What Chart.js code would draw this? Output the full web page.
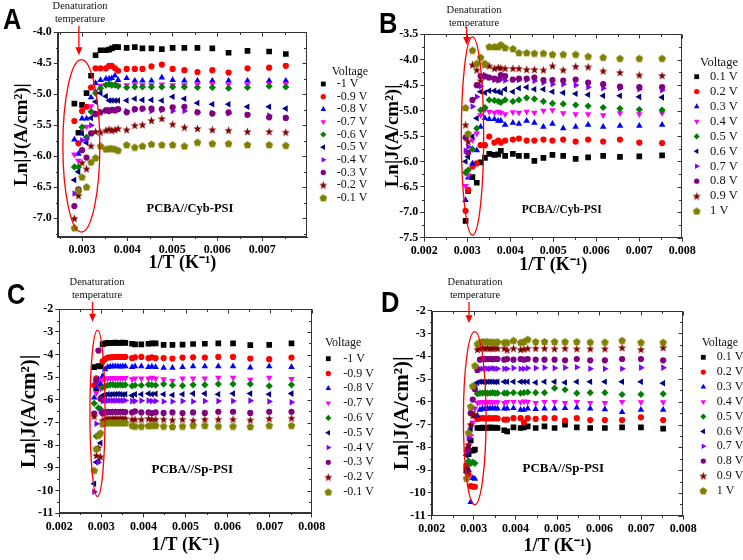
<!DOCTYPE html>
<html>
<head>
<meta charset="utf-8">
<script src="https://cdn.jsdelivr.net/npm/chart.js"></script>
<style>
  body { margin: 0; background: #fff; }
  #wrap { position: relative; width: 743px; height: 560px; overflow: hidden; background: #fff; }
  canvas { position: absolute; left: 0; top: 0; }
  .lbl { position: absolute; font: bold 30px "Liberation Sans", Arial, sans-serif; line-height: 30px; transform: scaleX(0.85); transform-origin: left top; }
  .note { position: absolute; width: 80px; text-align: center; font: 10.5px "Liberation Serif", "Times New Roman", serif; line-height: 12.5px; color: #111; }
</style>
</head>
<body>
<div id="wrap">
  <canvas id="cA" width="743" height="560"></canvas>
  <canvas id="cB" width="743" height="560"></canvas>
  <canvas id="cC" width="743" height="560"></canvas>
  <canvas id="cD" width="743" height="560"></canvas>
  <div class="lbl" style="left:3px;top:4px">A</div>
  <div class="lbl" style="left:379px;top:8px">B</div>
  <div class="lbl" style="left:7px;top:279px">C</div>
  <div class="lbl" style="left:381px;top:287px">D</div>
  <div class="note" style="left:40px;top:0px">Denaturation<br>temperature</div>
  <div class="note" style="left:434px;top:4px">Denaturation<br>temperature</div>
  <div class="note" style="left:57px;top:276px">Denaturation<br>temperature</div>
  <div class="note" style="left:435px;top:276px">Denaturation<br>temperature</div>
</div>
<script>
// 1/T values (K^-1) for each panel
const xsA = [0.00283, 0.00292, 0.00300, 0.00310, 0.00320, 0.00330, 0.00341, 0.00353, 0.00360, 0.00366, 0.00373, 0.00380, 0.00399, 0.00417, 0.00434, 0.00454, 0.00477, 0.00501, 0.00527, 0.00556, 0.00589, 0.00625, 0.00667, 0.00715, 0.00752];
const xsB = [0.00296, 0.00302, 0.00312, 0.00322, 0.00331, 0.00341, 0.00351, 0.00363, 0.00372, 0.00378, 0.00388, 0.00406, 0.00420, 0.00438, 0.00456, 0.00477, 0.00498, 0.00523, 0.00552, 0.00581, 0.00616, 0.00655, 0.00700, 0.00753];
const xsCD = [0.00283, 0.00288, 0.00293, 0.00298, 0.00303, 0.00309, 0.00315, 0.00321, 0.00327, 0.00333, 0.00339, 0.00345, 0.00351, 0.00357, 0.00373, 0.00380, 0.00395, 0.00412, 0.00420, 0.00429, 0.00448, 0.00469, 0.00493, 0.00518, 0.00546, 0.00578, 0.00613, 0.00654, 0.00699, 0.00752];

const voltsNeg = ['-1 V', '-0.9 V', '-0.8 V', '-0.7 V', '-0.6 V', '-0.5 V', '-0.4 V', '-0.3 V', '-0.2 V', '-0.1 V'];
const voltsPos = ['0.1 V', '0.2 V', '0.3 V', '0.4 V', '0.5 V', '0.6 V', '0.7 V', '0.8 V', '0.9 V', '1 V'];

// A: PCBA//Cyb-PSI, reverse bias
const A_n10 = [-5.15, -5.62, -5.17, -4.98, -4.70, -4.37, -4.29, -4.29, -4.28, -4.26, -4.24, -4.24, -4.25, -4.24, -4.26, -4.26, -4.27, -4.25, -4.25, -4.25, -4.26, -4.33, -4.30, -4.31, -4.35];
const A_n09 = [-5.43, -5.79, -5.27, -5.20, -4.89, -4.58, -4.58, -4.58, -4.54, -4.54, -4.58, -4.62, -4.59, -4.59, -4.59, -4.55, -4.52, -4.59, -4.61, -4.64, -4.61, -4.65, -4.58, -4.57, -4.54];
const A_n08 = [-5.73, -5.96, -5.39, -5.39, -5.05, -4.82, -4.77, -4.75, -4.75, -4.74, -4.70, -4.77, -4.74, -4.78, -4.78, -4.78, -4.73, -4.77, -4.78, -4.78, -4.78, -4.78, -4.78, -4.78, -4.78];
const A_n07 = [-5.97, -6.07, -5.55, -5.52, -5.19, -4.95, -4.86, -4.85, -4.84, -4.85, -4.84, -4.86, -4.85, -4.84, -4.85, -4.85, -4.84, -4.85, -4.85, -4.84, -4.83, -4.84, -4.84, -4.83, -4.83];
const A_n06 = [-6.17, -6.17, -5.53, -5.69, -5.28, -4.98, -4.90, -4.85, -4.83, -4.85, -4.85, -4.87, -4.89, -4.88, -4.88, -4.88, -4.88, -4.88, -4.88, -4.89, -4.89, -4.90, -4.89, -4.87, -4.88];
const A_n05 = [-6.38, -6.25, -5.63, -5.78, -5.38, -5.12, -4.98, -5.03, -5.10, -5.10, -5.10, -5.10, -5.10, -5.07, -5.09, -5.09, -5.10, -5.04, -5.07, -5.14, -5.16, -5.16, -5.20, -5.20, -5.23];
const A_n04 = [-6.60, -6.57, -5.74, -5.72, -5.50, -5.30, -5.28, -5.26, -5.25, -5.26, -5.25, -5.25, -5.27, -5.25, -5.24, -5.27, -5.25, -5.27, -5.27, -5.29, -5.30, -5.31, -5.33, -5.34, -5.38];
const A_n03 = [-6.80, -6.53, -5.90, -6.02, -5.63, -5.32, -5.29, -5.26, -5.27, -5.25, -5.26, -5.24, -5.29, -5.24, -5.23, -5.23, -5.24, -5.21, -5.20, -5.29, -5.31, -5.29, -5.33, -5.37, -5.38];
const A_n02 = [-7.00, -6.63, -6.10, -6.20, -5.83, -5.60, -5.61, -5.58, -5.56, -5.58, -5.57, -5.55, -5.57, -5.50, -5.49, -5.42, -5.39, -5.48, -5.53, -5.55, -5.57, -5.58, -5.60, -5.60, -5.61];
const A_n01 = [-7.15, -6.55, -6.33, -6.49, -6.09, -6.02, -5.83, -5.88, -5.87, -5.87, -5.88, -5.90, -5.81, -5.85, -5.83, -5.80, -5.81, -5.81, -5.83, -5.77, -5.79, -5.79, -5.81, -5.81, -5.82];

// B: PCBA//Cyb-PSI, forward bias
const B_p01 = [-7.17, -6.58, -6.31, -6.42, -6.02, -5.93, -5.85, -5.87, -5.86, -5.79, -5.89, -5.85, -5.89, -5.89, -5.99, -5.93, -5.87, -5.89, -5.95, -5.92, -5.89, -5.91, -5.90, -5.88];
const B_p02 = [-6.97, -6.56, -6.10, -6.04, -5.68, -5.68, -5.51, -5.63, -5.59, -5.63, -5.59, -5.57, -5.55, -5.59, -5.59, -5.57, -5.59, -5.57, -5.61, -5.57, -5.61, -5.57, -5.63, -5.64];
const B_p03 = [-6.76, -6.32, -6.04, -5.78, -5.32, -5.15, -5.17, -5.17, -5.20, -5.20, -5.28, -5.24, -5.26, -5.20, -5.24, -5.32, -5.26, -5.35, -5.32, -5.28, -5.32, -5.30, -5.30, -5.28];
const B_p04 = [-6.48, -6.27, -5.58, -5.45, -5.09, -4.98, -5.02, -5.04, -5.02, -5.04, -5.07, -5.03, -5.04, -5.02, -5.04, -5.00, -4.99, -5.05, -5.07, -5.07, -5.09, -5.05, -5.07, -5.05];
const B_p05 = [-6.22, -6.17, -5.76, -5.35, -4.99, -4.94, -4.79, -4.80, -4.82, -4.84, -4.79, -4.82, -4.79, -4.75, -4.77, -4.82, -4.86, -4.87, -4.89, -4.91, -4.94, -4.96, -4.98, -4.99];
const B_p06 = [-6.00, -5.91, -5.51, -5.15, -4.63, -4.65, -4.61, -4.61, -4.63, -4.65, -4.58, -4.63, -4.56, -4.54, -4.58, -4.58, -4.63, -4.65, -4.67, -4.69, -4.71, -4.71, -4.73, -4.74];
const B_p07 = [-5.79, -5.71, -4.92, -4.73, -4.52, -4.30, -4.35, -4.40, -4.41, -4.39, -4.41, -4.39, -4.40, -4.40, -4.42, -4.45, -4.48, -4.48, -4.50, -4.54, -4.56, -4.56, -4.58, -4.60];
const B_p08 = [-5.53, -5.83, -4.79, -4.50, -4.32, -4.33, -4.35, -4.37, -4.39, -4.30, -4.32, -4.39, -4.37, -4.37, -4.35, -4.40, -4.40, -4.41, -4.39, -4.45, -4.48, -4.53, -4.54, -4.54];
const B_p09 = [-5.28, -5.61, -4.10, -4.20, -4.41, -4.10, -4.12, -4.17, -4.15, -4.16, -4.17, -4.17, -4.17, -4.19, -4.19, -4.20, -4.12, -4.20, -4.13, -4.14, -4.22, -4.25, -4.30, -4.31];
const B_p10 = [-4.94, -5.45, -3.81, -4.07, -3.95, -4.07, -3.74, -3.74, -3.74, -3.70, -3.76, -3.78, -3.86, -3.86, -3.87, -3.87, -3.89, -3.89, -3.89, -3.93, -3.95, -3.97, -3.97, -3.97];

// C: PCBA//Sp-PSI, reverse bias
const C_n10 = [-4.55, -5.50, -4.50, -4.52, -3.55, -3.50, -3.48, -3.49, -3.48, -3.47, -3.48, -3.48, -3.47, -3.48, -3.52, -3.55, -3.55, -3.52, -3.50, -3.50, -3.57, -3.57, -3.56, -3.53, -3.52, -3.50, -3.50, -3.58, -3.57, -3.50];
const C_n09 = [-5.35, -5.05, -5.20, -5.40, -4.30, -4.20, -4.13, -4.12, -4.11, -4.10, -4.10, -4.10, -4.10, -4.10, -4.15, -4.12, -4.10, -4.15, -4.12, -4.15, -4.15, -4.17, -4.13, -4.12, -4.13, -4.10, -4.10, -4.17, -4.20, -4.13];
const C_n08 = [-5.90, -5.45, -5.10, -5.30, -4.95, -4.65, -4.55, -4.53, -4.52, -4.52, -4.52, -4.53, -4.52, -4.52, -4.55, -4.52, -4.52, -4.55, -4.53, -4.55, -4.58, -4.58, -4.55, -4.52, -4.52, -4.52, -4.52, -4.57, -4.52, -4.55];
const C_n07 = [-6.60, -5.70, -5.15, -5.50, -5.10, -5.05, -5.05, -5.04, -5.03, -5.05, -5.04, -5.03, -5.04, -5.03, -5.08, -5.05, -5.05, -5.05, -5.02, -5.05, -5.08, -5.15, -5.05, -5.05, -5.05, -5.02, -5.02, -5.10, -5.02, -5.07];
const C_n06 = [-6.15, -7.60, -6.35, -6.40, -5.45, -5.40, -5.35, -5.33, -5.32, -5.35, -5.33, -5.33, -5.35, -5.33, -5.38, -5.35, -5.35, -5.32, -5.33, -5.35, -5.30, -5.35, -5.37, -5.33, -5.33, -5.30, -5.30, -5.30, -5.38, -5.33];
const C_n05 = [-9.70, -8.75, -8.70, -7.90, -5.80, -5.78, -5.75, -5.76, -5.75, -5.75, -5.74, -5.75, -5.76, -5.75, -5.80, -5.75, -5.75, -5.72, -5.75, -5.73, -5.75, -5.78, -5.75, -5.72, -5.72, -5.75, -5.72, -5.72, -5.75, -5.72];
const C_n04 = [-10.05, -7.05, -8.75, -6.50, -6.05, -6.03, -6.03, -6.02, -6.03, -6.03, -6.02, -6.03, -6.03, -6.02, -6.05, -6.05, -6.03, -6.03, -6.05, -6.05, -6.07, -6.07, -6.05, -6.07, -6.05, -6.05, -6.05, -6.03, -6.07, -6.10];
const C_n03 = [-6.60, -5.15, -3.82, -5.95, -6.60, -6.55, -6.52, -6.53, -6.52, -6.52, -6.53, -6.52, -6.52, -6.53, -6.55, -6.50, -6.55, -6.55, -6.58, -6.55, -6.57, -6.55, -6.58, -6.55, -6.57, -6.52, -6.52, -6.57, -6.52, -6.52];
const C_n02 = [-6.72, -8.45, -8.10, -8.50, -6.90, -6.85, -6.80, -6.82, -6.80, -6.80, -6.81, -6.80, -6.80, -6.81, -6.85, -6.85, -6.85, -6.82, -6.85, -6.85, -6.85, -6.88, -6.85, -6.90, -6.85, -6.85, -6.85, -6.88, -6.82, -6.80];
const C_n01 = [-9.10, -8.15, -7.55, -7.45, -7.05, -7.00, -7.00, -6.98, -7.00, -7.00, -7.00, -6.98, -7.00, -7.00, -7.12, -7.15, -7.15, -7.13, -7.12, -7.12, -7.15, -7.17, -7.15, -7.12, -7.12, -7.15, -7.15, -7.17, -7.12, -7.12];

// D: PCBA//Sp-PSI, forward bias
const D_p01 = [-8.80, -8.30, -7.70, -8.15, -8.10, -7.15, -7.15, -7.13, -7.15, -7.15, -7.12, -7.15, -7.13, -7.15, -7.25, -7.30, -7.12, -7.15, -7.12, -7.08, -7.15, -7.08, -7.15, -7.00, -7.12, -7.15, -7.15, -7.12, -7.12, -7.18];
const D_p02 = [-8.80, -9.20, -9.70, -9.72, -9.73, -6.75, -6.73, -6.72, -6.73, -6.73, -6.72, -6.73, -6.72, -6.73, -6.78, -6.78, -6.72, -6.72, -6.90, -6.72, -6.75, -6.72, -6.72, -6.82, -6.72, -6.80, -6.80, -6.80, -6.68, -6.80];
const D_p03 = [-8.30, -9.00, -10.40, -9.35, -9.38, -6.60, -6.35, -6.30, -6.32, -6.30, -6.30, -6.28, -6.30, -6.30, -6.30, -6.30, -6.28, -6.35, -6.35, -6.30, -6.32, -6.30, -6.30, -6.28, -6.25, -6.30, -6.33, -6.45, -6.35, -6.35];
const D_p04 = [-8.20, -7.90, -7.50, -6.90, -6.30, -6.05, -6.02, -6.00, -6.02, -6.02, -6.00, -6.02, -6.00, -6.02, -6.05, -6.00, -6.00, -6.02, -5.98, -6.00, -6.05, -6.00, -6.00, -6.05, -6.00, -6.05, -6.05, -6.00, -6.02, -6.02];
const D_p05 = [-9.10, -8.60, -8.70, -8.65, -8.70, -5.65, -5.62, -5.62, -5.60, -5.62, -5.62, -5.60, -5.62, -5.62, -5.62, -5.62, -5.60, -5.62, -5.60, -5.58, -5.60, -5.60, -5.40, -5.47, -5.62, -5.60, -5.60, -5.68, -5.67, -5.65];
const D_p06 = [-8.35, -8.00, -7.20, -6.55, -5.30, -5.15, -5.12, -5.12, -5.13, -5.12, -5.12, -5.12, -5.13, -5.12, -5.12, -5.12, -5.12, -5.12, -5.12, -5.12, -5.15, -5.12, -5.12, -5.15, -5.12, -5.12, -5.12, -5.12, -5.12, -5.18];
const D_p07 = [-8.10, -7.60, -7.05, -6.25, -5.30, -4.60, -4.55, -4.55, -4.53, -4.55, -4.55, -4.53, -4.55, -4.55, -4.55, -4.55, -4.52, -4.55, -4.55, -4.52, -4.52, -4.50, -4.52, -4.50, -4.48, -4.55, -4.55, -4.55, -4.50, -4.50];
const D_p08 = [-9.00, -8.10, -6.50, -5.90, -5.45, -4.60, -4.15, -4.12, -4.13, -4.12, -4.12, -4.13, -4.12, -4.12, -4.15, -4.12, -4.15, -4.12, -4.15, -4.12, -4.15, -4.15, -4.15, -4.18, -4.12, -4.18, -4.18, -4.12, -4.12, -4.18];
const D_p09 = [-8.95, -7.90, -7.00, -6.60, -6.58, -3.70, -3.65, -3.63, -3.65, -3.63, -3.65, -3.65, -3.63, -3.65, -3.65, -3.72, -3.65, -3.70, -3.68, -3.65, -3.65, -3.65, -3.67, -3.65, -3.67, -3.67, -3.67, -3.62, -3.70, -3.62];
const D_p10 = [-9.35, -7.35, -6.20, -5.30, -4.40, -3.45, -3.38, -3.35, -3.35, -3.35, -3.37, -3.37, -3.38, -3.36, -3.38, -3.38, -3.30, -3.38, -3.35, -3.25, -3.35, -3.35, -3.35, -3.35, -3.35, -3.37, -3.37, -3.30, -3.38, -3.38];

const serif = '"Liberation Serif", "Times New Roman", serif';

// filled star / pentagon markers (Chart.js star is only stroked)
function shapeImage(kind, color) {
  const c = document.createElement('canvas');
  c.width = 9; c.height = 9;
  const g = c.getContext('2d');
  g.fillStyle = color;
  g.beginPath();
  const n = kind === 'star' ? 10 : 5;
  for (let k = 0; k < n; k++) {
    const r = kind === 'star' ? (k % 2 ? 1.8 : 4.3) : 4.0;
    const t = -Math.PI / 2 + k * 2 * Math.PI / n;
    const px = 4.5 + r * Math.cos(t), py = 4.9 + r * Math.sin(t);
    if (k) g.lineTo(px, py); else g.moveTo(px, py);
  }
  g.closePath();
  g.fill();
  return c;
}

const marks = [
  { color: '#000000', shape: 'rect', r: 4.0 },
  { color: '#ff0000', shape: 'circle', r: 3.1 },
  { color: '#0000ff', shape: 'triangle', r: 3.8 },
  { color: '#ff00ff', shape: 'triangle', r: 3.8, rot: 180 },
  { color: '#008000', shape: 'rectRot', r: 3.6 },
  { color: '#000080', shape: 'triangle', r: 3.8, rot: -90 },
  { color: '#8000ff', shape: 'triangle', r: 3.8, rot: 90 },
  { color: '#800080', shape: 'circle', r: 3.1 },
  { color: '#800000', shape: shapeImage('star', '#800000'), r: 3.5 },
  { color: '#808000', shape: shapeImage('pentagon', '#808000'), r: 3.5 }
];

// frame, minor ticks, legend, sample name, ellipse and arrow
const decor = {
  id: 'decor',
  afterDraw(chart, args, p) {
    const { ctx, chartArea: a, scales: { x, y } } = chart;
    const ox = p.ox, oy = p.oy;
    ctx.save();
    ctx.strokeStyle = '#333';
    ctx.lineWidth = 1;
    const L = Math.round(a.left) + 0.5, R = Math.round(a.right) - 0.5;
    const T = Math.round(a.top) + 0.5, B = Math.round(a.bottom) - 0.5;
    ctx.strokeRect(L, T, R - L, B - T);

    ctx.beginPath();
    const xs = p.xTicks, xStep = xs[1] - xs[0];
    [xs[0] - xStep / 2, ...xs.map(v => v + xStep / 2)].forEach(v => {
      if (v < p.xMin || v > p.xMax) return;
      const px = Math.round(x.getPixelForValue(v)) + 0.5;
      ctx.moveTo(px, B); ctx.lineTo(px, B + 2.5);
      ctx.moveTo(px, T); ctx.lineTo(px, T + 2.5);
    });
    xs.forEach(v => {
      const px = Math.round(x.getPixelForValue(v)) + 0.5;
      ctx.moveTo(px, T); ctx.lineTo(px, T + 4);
    });
    const ys = p.yTicks, yStep = ys[1] - ys[0];
    [ys[0] - yStep / 2, ...ys.map(v => v + yStep / 2)].forEach(v => {
      if (v < p.yMin || v > p.yMax) return;
      const py = Math.round(y.getPixelForValue(v)) + 0.5;
      ctx.moveTo(L, py); ctx.lineTo(L - 2.5, py);
      ctx.moveTo(R, py); ctx.lineTo(R - 2.5, py);
    });
    ys.forEach(v => {
      const py = Math.round(y.getPixelForValue(v)) + 0.5;
      ctx.moveTo(R, py); ctx.lineTo(R - 4, py);
    });
    ctx.stroke();

    // legend
    const lg = p.legend;
    ctx.fillStyle = '#111';
    ctx.font = lg.size + 'px ' + serif;
    ctx.textBaseline = 'middle';
    ctx.textAlign = 'left';
    ctx.fillText('Voltage', ox + lg.hx, oy + lg.hy);
    chart.data.datasets.forEach((ds, i) => {
      const m = marks[i];
      const yy = oy + lg.y0 + i * lg.step;
      ctx.fillStyle = m.color;
      Chart.helpers.drawPoint(ctx, { pointStyle: m.shape, rotation: m.rot || 0, radius: m.r * 0.85, borderWidth: 0 }, ox + lg.mx, yy);
      ctx.fillStyle = '#111';
      ctx.fillText(ds.label, ox + lg.tx, yy);
    });

    // sample name
    ctx.font = 'bold ' + p.sample.size + 'px ' + serif;
    ctx.textAlign = 'center';
    ctx.fillStyle = '#000';
    ctx.fillText(p.sample.text, ox + p.sample.cx, oy + p.sample.cy);

    // denaturation ellipse and arrow
    ctx.strokeStyle = '#ff0000';
    ctx.fillStyle = '#ff0000';
    ctx.lineWidth = 1.3;
    const e = p.ell;
    const cx = x.getPixelForValue(e.x), cy = y.getPixelForValue(e.y);
    const rx = Math.abs(x.getPixelForValue(e.x + e.rx) - cx);
    const ry = Math.abs(y.getPixelForValue(e.y + e.ry) - cy);
    ctx.beginPath();
    ctx.ellipse(cx, cy, rx, ry, 0, 0, Math.PI * 2);
    ctx.stroke();
    const ar = p.arrow;
    const ax = x.getPixelForValue(ar.x), y1 = y.getPixelForValue(ar.y1), y2 = y.getPixelForValue(ar.y2);
    ctx.beginPath();
    ctx.moveTo(ax, y1); ctx.lineTo(ax, y2 - 6);
    ctx.stroke();
    ctx.beginPath();
    ctx.moveTo(ax - 3.5, y2 - 8); ctx.lineTo(ax + 3.5, y2 - 8); ctx.lineTo(ax, y2);
    ctx.closePath();
    ctx.fill();
    ctx.restore();
  }
};

// panel geometry is given relative to each 371/372 x 280 quadrant (ox, oy)
const panels = [
  {
    id: 'cA', ox: 0, oy: 0, w: 371, xs: xsA, names: voltsNeg,
    series: [A_n10, A_n09, A_n08, A_n07, A_n06, A_n05, A_n04, A_n03, A_n02, A_n01],
    xMin: 0.00246, xMax: 0.00799, xTicks: [0.003, 0.004, 0.005, 0.006, 0.007],
    yMin: -7.3, yMax: -4.0, yTicks: [-7.0, -6.5, -6.0, -5.5, -5.0, -4.5, -4.0], yDec: 1,
    pad: { left: 0, top: 32.3, right: 64, bottom: 0 }, yW: 57.7, xH: 43,
    yTitleSize: 19, yTitlePad: 10.5, xTitleSize: 18, xTitlePad: 6,
    legend: { hx: 331.7, hy: 72.3, mx: 323.3, tx: 336.7, y0: 84, step: 12.63, size: 12 },
    sample: { text: 'PCBA//Cyb-PSI', cx: 190, cy: 208.3, size: 12.5 },
    ell: { x: 0.002985, y: -5.83, rx: 0.00041, ry: 1.39 },
    arrow: { x: 0.00293, y1: -3.90, y2: -4.37 }
  },
  {
    id: 'cB', ox: 371, oy: 0, w: 372, xs: xsB, names: voltsPos,
    series: [B_p01, B_p02, B_p03, B_p04, B_p05, B_p06, B_p07, B_p08, B_p09, B_p10],
    xMin: 0.002, xMax: 0.008, xTicks: [0.002, 0.003, 0.004, 0.005, 0.006, 0.007, 0.008],
    yMin: -7.5, yMax: -3.5, yTicks: [-7.5, -7.0, -6.5, -6.0, -5.5, -5.0, -4.5, -4.0, -3.5], yDec: 1,
    pad: { left: 0, top: 34.3, right: 60.7, bottom: 0 }, yW: 53.3, xH: 42.3,
    yTitleSize: 19, yTitlePad: 10.5, xTitleSize: 18, xTitlePad: 4.2,
    legend: { hx: 329, hy: 62.7, mx: 325.7, tx: 339, y0: 76.7, step: 14.92, size: 12.5 },
    sample: { text: 'PCBA//Cyb-PSI', cx: 190.7, cy: 210, size: 11.5 },
    ell: { x: 0.003121, y: -5.50, rx: 0.00026, ry: 1.95 },
    arrow: { x: 0.002986, y1: -3.36, y2: -3.71 }
  },
  {
    id: 'cC', ox: 0, oy: 280, w: 371, xs: xsCD, names: voltsNeg,
    series: [C_n10, C_n09, C_n08, C_n07, C_n06, C_n05, C_n04, C_n03, C_n02, C_n01],
    xMin: 0.002, xMax: 0.008, xTicks: [0.002, 0.003, 0.004, 0.005, 0.006, 0.007, 0.008],
    yMin: -11, yMax: -2, yTicks: [-11, -10, -9, -8, -7, -6, -5, -4, -3, -2], yDec: 0,
    pad: { left: 0, top: 29.3, right: 59.3, bottom: 0 }, yW: 59.3, xH: 46.7,
    yTitleSize: 21, yTitlePad: 17.4, xTitleSize: 18, xTitlePad: 4.2,
    legend: { hx: 325, hy: 63.3, mx: 328.3, tx: 343.3, y0: 78.7, step: 14.8, size: 12 },
    sample: { text: 'PCBA//Sp-PSI', cx: 192.3, cy: 189.3, size: 13 },
    ell: { x: 0.002908, y: -6.59, rx: 0.00018, ry: 3.67 },
    arrow: { x: 0.00279, y1: -1.68, y2: -2.55 }
  },
  {
    id: 'cD', ox: 371, oy: 280, w: 372, xs: xsCD, names: voltsPos,
    series: [D_p01, D_p02, D_p03, D_p04, D_p05, D_p06, D_p07, D_p08, D_p09, D_p10],
    xMin: 0.002, xMax: 0.008, xTicks: [0.002, 0.003, 0.004, 0.005, 0.006, 0.007, 0.008],
    yMin: -11, yMax: -2, yTicks: [-11, -10, -9, -8, -7, -6, -5, -4, -3, -2], yDec: 0,
    pad: { left: 0, top: 30.7, right: 59.7, bottom: 0 }, yW: 60.7, xH: 44.3,
    yTitleSize: 21, yTitlePad: 19.4, xTitleSize: 18, xTitlePad: 2.5,
    legend: { hx: 330.7, hy: 62.7, mx: 332.3, tx: 345.7, y0: 77.3, step: 14.82, size: 12 },
    sample: { text: 'PCBA//Sp-PSI', cx: 192.3, cy: 189, size: 13 },
    ell: { x: 0.003026, y: -6.72, rx: 0.00027, ry: 3.8 },
    arrow: { x: 0.00289, y1: -1.62, y2: -2.55 }
  }
];

function makeChart(p) {
  const datasets = p.series.map((ys, i) => {
    const m = marks[i];
    return {
      label: p.names[i],
      data: ys.map((v, k) => ({ x: p.xs[k], y: v })).filter(d => d.y !== null),
      pointStyle: m.shape,
      pointRadius: m.r,
      pointRotation: m.rot || 0,
      pointBackgroundColor: m.color,
      backgroundColor: m.color,
      borderColor: m.color,
      pointBorderWidth: 0,
      order: 10 - i
    };
  });
  const tickFont = { family: serif, size: 12, weight: 'bold' };
  const padding = {
    left: p.ox + p.pad.left,
    top: p.oy + p.pad.top,
    right: 743 - (p.ox + p.w) + p.pad.right,
    bottom: 560 - (p.oy + 280) + p.pad.bottom
  };
  return new Chart(document.getElementById(p.id), {
    type: 'scatter',
    data: { datasets },
    options: {
      responsive: false,
      animation: false,
      events: [],
      layout: { padding },
      plugins: { legend: { display: false }, tooltip: { enabled: false }, decor: p },
      scales: {
        x: {
          type: 'linear', min: p.xMin, max: p.xMax,
          afterBuildTicks: s => { s.ticks = p.xTicks.map(v => ({ value: v })); },
          afterFit: s => { s.height = p.xH; },
          ticks: { font: tickFont, color: '#000', padding: 2, maxRotation: 0, autoSkip: false, callback: v => v.toFixed(3) },
          grid: { drawOnChartArea: false, tickLength: 4, color: '#333' },
          border: { color: '#333' },
          title: { display: true, text: '1/T (K⁻¹)', color: '#000', font: { family: serif, size: p.xTitleSize, weight: 'bold' }, padding: { top: 0, bottom: p.xTitlePad } }
        },
        y: {
          type: 'linear', min: p.yMin, max: p.yMax,
          afterBuildTicks: s => { s.ticks = p.yTicks.map(v => ({ value: v })); },
          afterFit: s => { s.width = p.yW; },
          ticks: { font: tickFont, color: '#000', padding: 2, autoSkip: false, callback: v => v.toFixed(p.yDec) },
          grid: { drawOnChartArea: false, tickLength: 4, color: '#333' },
          border: { color: '#333' },
          title: { display: true, text: 'Ln|J(A/cm²)|', color: '#000', font: { family: serif, size: p.yTitleSize, weight: 'bold' }, padding: { top: p.yTitlePad, bottom: 0 } }
        }
      }
    },
    plugins: [decor]
  });
}

panels.forEach(makeChart);
</script>
</body>
</html>
